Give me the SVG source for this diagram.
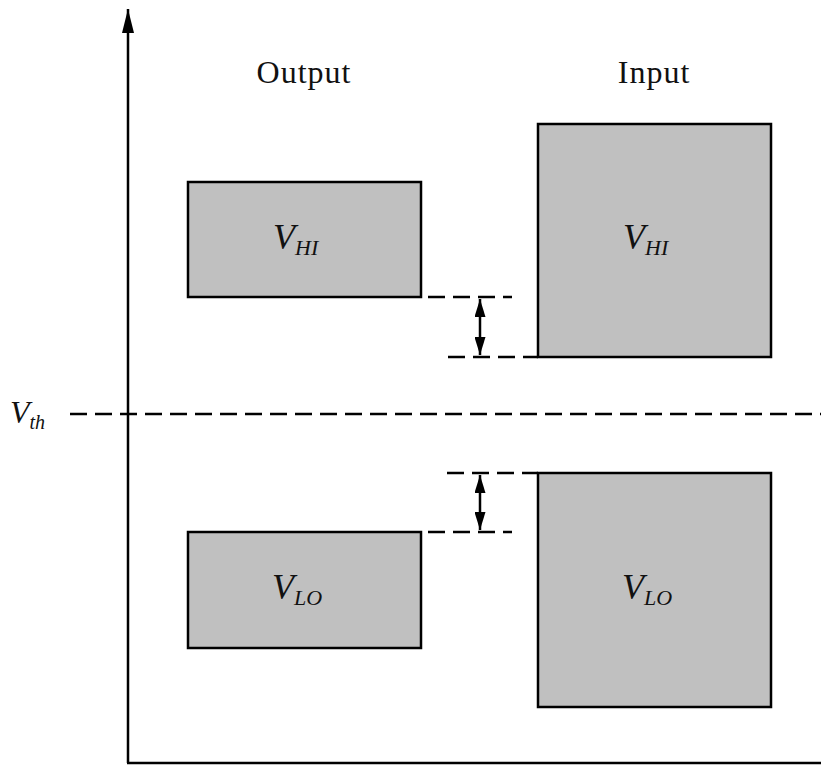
<svg xmlns="http://www.w3.org/2000/svg" width="821" height="765" viewBox="0 0 821 765">
<style>
.box{fill:#c0c0c0;stroke:#000;stroke-width:2.5}
.ln{stroke:#000;stroke-width:2.5;fill:none}
.dash{stroke:#000;stroke-width:2.5;fill:none;stroke-dasharray:17 8}
.t{font-family:"Liberation Serif",serif;font-size:32px;fill:#111;text-anchor:middle;letter-spacing:1px}
.v{font-family:"Liberation Serif",serif;font-style:italic;font-size:36px;fill:#111}
.s{font-size:22px}
</style>
<defs>
<marker id="tip" viewBox="0 0 24 12" refX="24" refY="6" markerWidth="24" markerHeight="12" markerUnits="userSpaceOnUse" orient="auto-start-reverse">
<path d="M0,0 L24,6 L0,12 Z" fill="#000"/>
</marker>
<marker id="tip2" viewBox="0 0 18 11" refX="18" refY="5.5" markerWidth="18" markerHeight="11" markerUnits="userSpaceOnUse" orient="auto-start-reverse">
<path d="M0,0 L18,5.5 L0,11 Z" fill="#000"/>
</marker>
</defs>
<g id="axes">
<line class="ln" x1="128" y1="763" x2="128" y2="9" marker-end="url(#tip)"/>
<line class="ln" x1="127" y1="763" x2="821" y2="763"/>
</g>
<g id="labels">
<text class="t" x="304" y="83">Output</text>
<text class="t" x="654" y="83">Input</text>
<text class="v" x="10" y="423" style="font-size:32px">V<tspan class="s" dy="6" style="font-size:20px">th</tspan></text>
</g>
<g id="out-hi"><rect class="box" x="188" y="182" width="233" height="115"/><text class="v" x="273" y="249">V<tspan class="s" dy="6">HI</tspan></text></g>
<g id="in-hi"><rect class="box" x="538" y="124" width="233" height="233"/><text class="v" x="623" y="249">V<tspan class="s" dy="6">HI</tspan></text></g>
<g id="out-lo"><rect class="box" x="188" y="532" width="233" height="116"/><text class="v" x="272" y="599">V<tspan class="s" dy="6">LO</tspan></text></g>
<g id="in-lo"><rect class="box" x="538" y="473" width="233" height="234"/><text class="v" x="622" y="599">V<tspan class="s" dy="6">LO</tspan></text></g>
<g id="connectors">
<line class="dash" x1="70" y1="414" x2="821" y2="414"/>
<line class="dash" x1="428" y1="297" x2="512" y2="297"/>
<line class="dash" x1="448" y1="357" x2="538" y2="357"/>
<line class="dash" x1="447" y1="473" x2="538" y2="473"/>
<line class="dash" x1="428" y1="532" x2="512" y2="532"/>
<line class="ln" x1="480" y1="299" x2="480" y2="355" marker-start="url(#tip2)" marker-end="url(#tip2)"/>
<line class="ln" x1="480" y1="475" x2="480" y2="530" marker-start="url(#tip2)" marker-end="url(#tip2)"/>
</g>
</svg>
